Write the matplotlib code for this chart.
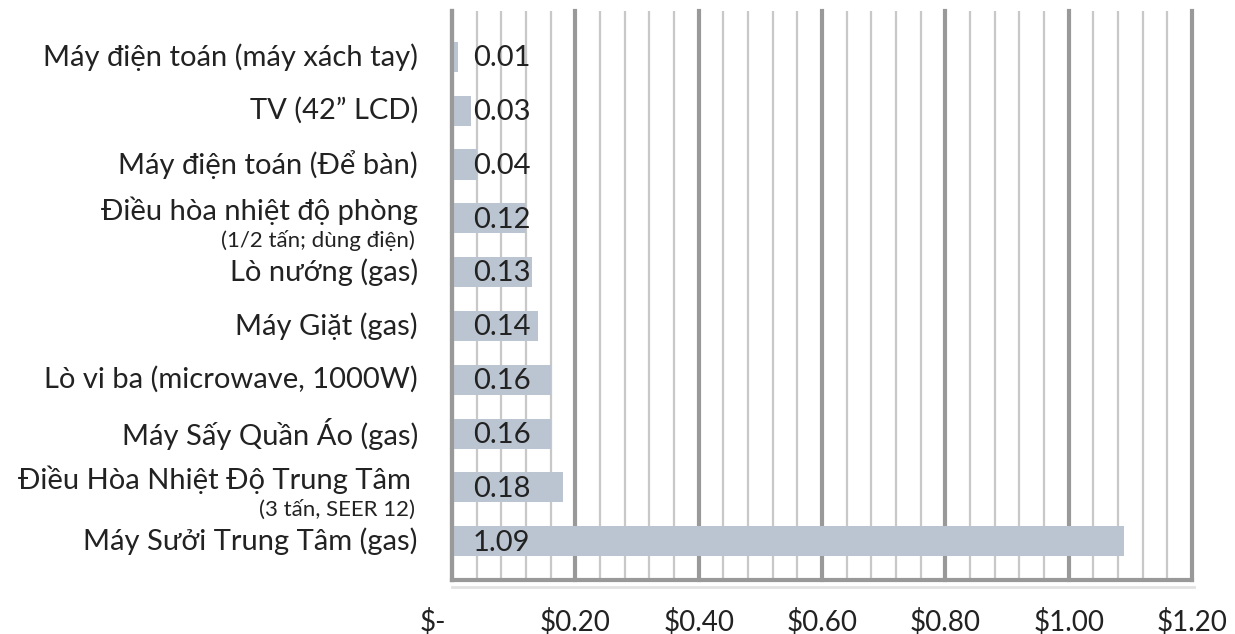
import numpy as np
import matplotlib.pyplot as plt
from matplotlib.ticker import MultipleLocator
from matplotlib.transforms import ScaledTranslation

# top-to-bottom order as shown
labels = [
    "Máy điện toán (máy xách tay)",
    "TV (42” LCD)",
    "Máy điện toán (Để bàn)",
    "Điều hòa nhiệt độ phòng",
    "Lò nướng (gas)",
    "Máy Giặt (gas)",
    "Lò vi ba (microwave, 1000W)",
    "Máy Sấy Quần Áo (gas)",
    "Điều Hòa Nhiệt Độ Trung Tâm ",
    "Máy Sưởi Trung Tâm (gas)",
]
sublabels = ["", "", "", "(1/2 tấn; dùng điện)", "", "", "", "", "(3 tấn, SEER 12)", ""]
values = [0.01, 0.03, 0.04, 0.12, 0.13, 0.14, 0.16, 0.16, 0.18, 1.09]
xticks = [0.0, 0.2, 0.4, 0.6, 0.8, 1.0, 1.2]
xticklabels = ["$-", "$0.20", "$0.40", "$0.60", "$0.80", "$1.00", "$1.20"]

plt.rcParams['font.family'] = ['Lato', 'Open Sans', 'DejaVu Sans']

bar_color = "#bbc5d1"
text_color = "#222222"
major_grey = "#999999"
minor_grey = "#c8c8c8"

fig = plt.figure(figsize=(12.35, 6.34), dpi=100)
ax = fig.add_axes([0.366, 0.0852, 0.5992, 0.8974])

n = len(values)
ypos = np.arange(n)[::-1]  # first label at top
ax.barh(ypos, values, height=0.56, color=bar_color, zorder=2)

ax.set_xlim(0, 1.2)
ax.set_ylim(-0.72, 9.85)

ax.xaxis.set_major_locator(MultipleLocator(0.2))
ax.xaxis.set_minor_locator(MultipleLocator(0.04))
ax.set_xticks(xticks)
ax.set_xticklabels(xticklabels, fontsize=20, color=text_color)
ax.tick_params(axis='x', which='both', length=0, pad=20)
ax.set_yticks([])

ax.grid(axis='x', which='major', color=major_grey, linewidth=3, zorder=0)
ax.grid(axis='x', which='minor', color=minor_grey, linewidth=1.6, zorder=0)
for gl in ax.get_xgridlines():
    gl.set_clip_on(False)
ax.set_axisbelow(True)

# shift "$-" left like the reference
lbl0 = ax.get_xticklabels()[0]
lbl0.set_transform(lbl0.get_transform() + ScaledTranslation(-0.19, 0, fig.dpi_scale_trans))

for side in ("top", "right"):
    ax.spines[side].set_visible(False)
ax.spines["left"].set_color(major_grey)
ax.spines["left"].set_linewidth(3)
ax.spines["bottom"].set_color(major_grey)
ax.spines["bottom"].set_linewidth(3)
ax.plot([0, 1.003], [-0.012, -0.012], transform=ax.transAxes, color="#e2e2e2",
        linewidth=2, clip_on=False, zorder=1)

# value labels inside bars
for y, v in zip(ypos, values):
    ax.annotate(f"{v:.2f}", xy=(0, y), xytext=(15, -1), textcoords="offset points",
                ha="left", va="center", fontsize=21, color=text_color, zorder=3)

# category labels
ytr = ax.get_yaxis_transform()
for y, lab, sub in zip(ypos, labels, sublabels):
    if sub:
        ax.text(-0.046, y + 0.14, lab, transform=ytr, ha="right", va="center",
                fontsize=21, color=text_color)
        ax.text(-0.05, y - 0.41, sub, transform=ytr, ha="right", va="center",
                fontsize=16, color=text_color)
    else:
        ax.text(-0.046, y, lab, transform=ytr, ha="right", va="center",
                fontsize=21, color=text_color)

fig.savefig("out.png", dpi=100)
plt.close(fig)
